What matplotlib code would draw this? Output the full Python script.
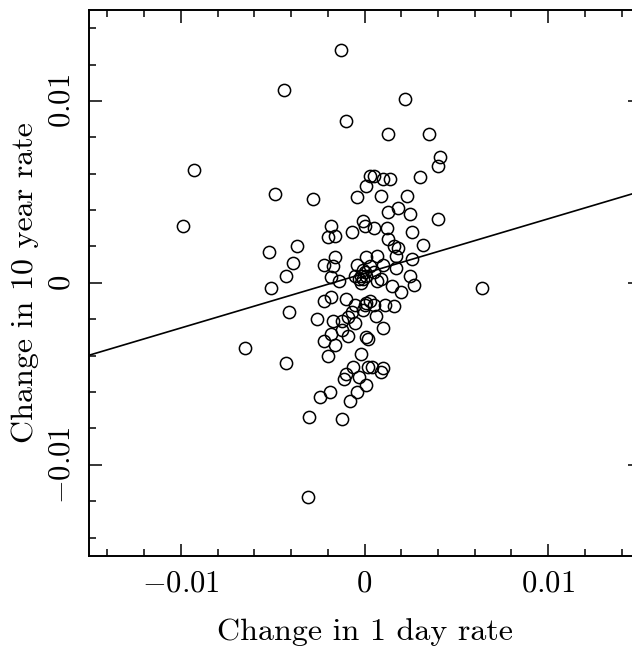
#!/usr/bin/env python3
"""Scatter of daily changes: 10 year rate vs 1 day rate, with fitted line."""

import matplotlib

matplotlib.use("Agg")
import matplotlib.pyplot as plt  # type: ignore
from matplotlib.ticker import FixedLocator, FuncFormatter, MultipleLocator

# Change in 1 day rate (x) and change in 10 year rate (y)
day_change = [
    -0.0013, -0.0044, 0.0022, -0.0010, 0.0013, 0.0035, 0.0041, 0.0040, 0.0030,
    -0.0093, -0.0099, -0.0049, -0.0028, 0.0064, -0.0065, -0.0043, -0.0030,
    -0.0031, -0.0012,
    -0.0004, 0.0001, 0.0003, -0.0018, -0.0020, -0.0016, -0.0007, -0.0001,
    0.0000, 0.0005, 0.0010, 0.0014, 0.0009, 0.0023, 0.0013, 0.0018, 0.0025,
    0.0040, 0.0005, 0.0012, 0.0026, 0.0032, 0.0013, 0.0016, 0.0018, 0.0017,
    -0.0037, -0.0052, -0.0039, -0.0043, -0.0051, -0.0041,
    -0.0022, -0.0016, -0.0017, -0.0004, -0.0018, -0.0014, -0.0002, 0.0000,
    -0.0002, 0.0001, 0.0007, 0.0026, 0.0017, 0.0010, 0.0003, -0.0001, 0.0001,
    0.0005, 0.0009, 0.0025, 0.0027, 0.0015, 0.0020, 0.0007, -0.0003, -0.0001,
    -0.0005,
    -0.0022, -0.0018, -0.0010, -0.0005, -0.0007, -0.0001, 0.0001, -0.0026,
    -0.0017, -0.0012, -0.0009, -0.0012, -0.0005, 0.0003, 0.0005, 0.0011,
    0.0016, 0.0000, 0.0006, 0.0010,
    -0.0009, -0.0018, -0.0022, -0.0016, -0.0020, -0.0002, 0.0001, 0.0002,
    -0.0006, -0.0010, -0.0011, -0.0003, 0.0002, 0.0001, -0.0004, -0.0019,
    -0.0024, -0.0008, 0.0004, 0.0010, 0.0009,
]
year10_change = [
    0.0128, 0.0106, 0.0101, 0.0089, 0.0082, 0.0082, 0.0069, 0.0064, 0.0058,
    0.0062, 0.0031, 0.0049, 0.0046, -0.0003, -0.0036, -0.0044, -0.0074,
    -0.0118, -0.0075,
    0.0047, 0.0053, 0.0059, 0.0031, 0.0025, 0.0026, 0.0028, 0.0034,
    0.0031, 0.0059, 0.0057, 0.0057, 0.0048, 0.0048, 0.0039, 0.0041, 0.0038,
    0.0035, 0.0030, 0.0030, 0.0028, 0.0021, 0.0024, 0.0020, 0.0019, 0.0015,
    0.0020, 0.0017, 0.0011, 0.0004, -0.0003, -0.0016,
    0.0010, 0.0014, 0.0009, 0.0010, 0.0003, 0.0001, 0.0004, 0.0006,
    0.0000, 0.0014, 0.0015, 0.0013, 0.0008, 0.0010, 0.0009, 0.0007, 0.0004,
    0.0006, 0.0002, 0.0004, -0.0001, -0.0002, -0.0005, 0.0001, 0.0002, 0.0002,
    0.0004,
    -0.0010, -0.0008, -0.0009, -0.0012, -0.0016, -0.0015, -0.0011, -0.0020,
    -0.0021, -0.0021, -0.0019, -0.0026, -0.0022, -0.0010, -0.0012, -0.0012,
    -0.0013, -0.0012, -0.0018, -0.0025,
    -0.0029, -0.0028, -0.0032, -0.0034, -0.0040, -0.0039, -0.0030, -0.0031,
    -0.0046, -0.0050, -0.0053, -0.0052, -0.0046, -0.0056, -0.0060, -0.0060,
    -0.0063, -0.0065, -0.0046, -0.0047, -0.0049,
]

# fitted regression line
fit_intercept = 0.00052
fit_slope = 0.30

axis_limits = (-0.015, 0.015)
major_ticks = [-0.01, 0.0, 0.01]

plt.rcParams["font.family"] = ["cmr10", "DejaVu Serif"]
plt.rcParams["mathtext.fontset"] = "cm"
plt.rcParams["axes.unicode_minus"] = False

fig = plt.figure(figsize=(6.32, 6.51), dpi=100)
# the right spine sits just past the edge of the picture
ax = fig.add_axes([89 / 632, 95.3 / 651, 551 / 632, 545.7 / 651])

ax.plot(day_change, year10_change, linestyle="none", marker="o",
        markersize=8.8, markerfacecolor="none", markeredgecolor="black",
        markeredgewidth=1.1)

x0, x1 = axis_limits
ax.plot([x0, x1], [fit_intercept + fit_slope * x0, fit_intercept + fit_slope * x1],
        color="black", lw=1.2)

ax.set_xlim(axis_limits)
ax.set_ylim(axis_limits)


def tick_fmt(v, pos):
    if abs(v) < 1e-12:
        return r"$0$"
    return r"$%.2f$" % v


for axis in (ax.xaxis, ax.yaxis):
    axis.set_major_locator(FixedLocator(major_ticks))
    axis.set_minor_locator(MultipleLocator(0.002))
    axis.set_major_formatter(FuncFormatter(tick_fmt))

ax.tick_params(which="both", direction="in", top=True, right=True, width=1.1)
ax.tick_params(which="major", length=9, labelsize=22, pad=10)
ax.tick_params(which="minor", length=5)
for lab in ax.get_yticklabels():
    lab.set_rotation(90)
    lab.set_va("center")

for sp in ax.spines.values():
    sp.set_linewidth(1.4)

ax.set_xlabel("Change in 1 day rate", fontsize=23, labelpad=15)
ax.set_ylabel("Change in 10 year rate", fontsize=23, labelpad=6)

fig.savefig("out.png", dpi=100)
